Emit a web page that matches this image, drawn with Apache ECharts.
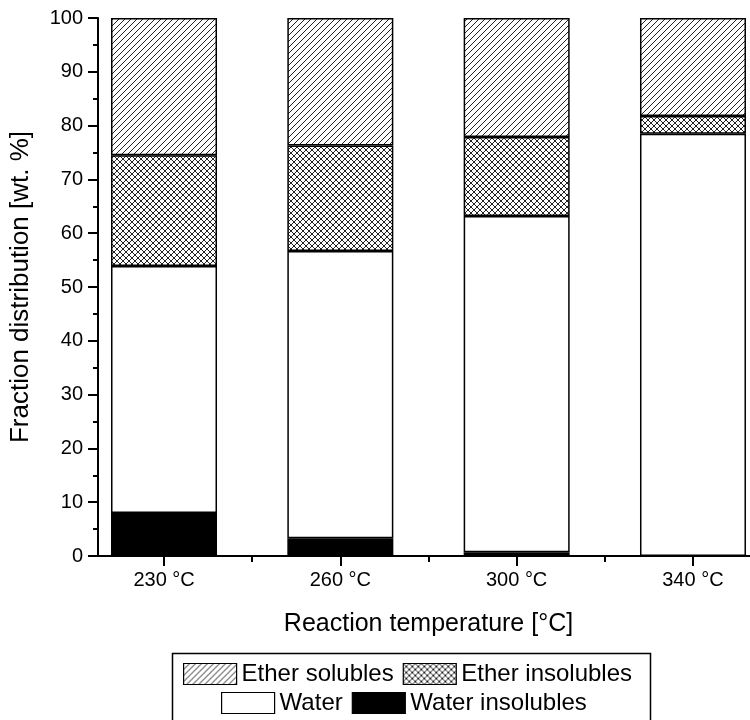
<!DOCTYPE html>
<html><head><meta charset="utf-8">
<script src="https://cdn.jsdelivr.net/npm/echarts@6/dist/echarts.min.js"></script>
<style>html,body{margin:0;padding:0;background:#fff}#c{width:750px;height:720px}</style>
</head><body><div id="c"></div>
<script>
// ---- data ----
const categories = ['230 °C', '260 °C', '300 °C', '340 °C'];
const categoryPositions = [1, 2, 3, 4];
const minorTickPositions = [1.5, 2.5, 3.5];
const waterInsolubles = [8.0, 3.3, 0.7, 0];
const water = [45.9, 53.4, 62.5, 78.5];
const etherInsolubles = [20.6, 19.6, 14.7, 3.3];
const etherSolubles = [25.5, 23.7, 22.1, 18.2];
const seriesNames = ['Water insolubles', 'Water', 'Ether insolubles', 'Ether solubles'];

// ---- patterns ----
function hatch(cross) {
  const s = 6, c = document.createElement('canvas');
  c.width = c.height = s;
  const g = c.getContext('2d');
  g.fillStyle = '#fff'; g.fillRect(0, 0, s, s);
  g.strokeStyle = '#222'; g.lineWidth = 1;
  g.beginPath();
  g.moveTo(0, s); g.lineTo(s, 0);
  g.moveTo(-1, 1); g.lineTo(1, -1);
  g.moveTo(s - 1, s + 1); g.lineTo(s + 1, s - 1);
  if (cross) {
    g.moveTo(0, 0); g.lineTo(s, s);
    g.moveTo(-1, s - 1); g.lineTo(1, s + 1);
    g.moveTo(s - 1, -1); g.lineTo(s + 1, 1);
  }
  g.stroke();
  return c;
}
const fills = [
  '#000',
  '#fff',
  { image: hatch(true), repeat: 'repeat' },
  { image: hatch(false), repeat: 'repeat' }
];
const values = [waterInsolubles, water, etherInsolubles, etherSolubles];

const font = 'Liberation Sans, Arial, sans-serif';
const chart = echarts.init(document.getElementById('c'), null, { renderer: 'canvas' });

const series = values.map((vals, k) => ({
  name: seriesNames[k],
  type: 'bar',
  stack: 'total',
  barWidth: 106,
  xAxisIndex: 2,
  yAxisIndex: 1,
  data: vals,
  itemStyle: { color: fills[k], borderColor: '#000', borderWidth: 1.5 },
  emphasis: { disabled: true },
  animation: false
}));

const legendCommon = {
  padding: 0, icon: 'rect',
  itemWidth: 53, itemHeight: 21, itemGap: 9,
  textStyle: { fontFamily: font, fontSize: 24, color: '#000' },
  itemStyle: { borderColor: '#000', borderWidth: 1.2 },
  selectedMode: false
};

chart.setOption({
  animation: false,
  backgroundColor: '#fff',
  grid: [
    { left: 98, top: 18, width: 661, height: 538, outerBoundsMode: 'none', containLabel: false },
    { left: 75.85, top: 18, width: 705.3, height: 538, outerBoundsMode: 'none', containLabel: false }
  ],
  xAxis: [{
    gridIndex: 0,
    type: 'value', min: 0.625, max: 4.375, position: 'bottom',
    name: 'Reaction temperature [°C]', nameLocation: 'middle', nameGap: 56,
    nameTextStyle: { fontFamily: font, fontSize: 25, color: '#000' },
    axisLine: { show: true, lineStyle: { color: '#000', width: 2 } },
    axisTick: { show: true, length: 10, customValues: categoryPositions, lineStyle: { color: '#000', width: 2 } },
    axisLabel: {
      customValues: categoryPositions, margin: 14,
      fontFamily: font, fontSize: 20, color: '#000',
      formatter: v => categories[categoryPositions.indexOf(v)]
    },
    splitLine: { show: false }
  }, {
    gridIndex: 0,
    type: 'value', min: 0.625, max: 4.375, position: 'bottom', offset: 0,
    axisLine: { show: false },
    axisTick: { show: true, length: 6, customValues: minorTickPositions, lineStyle: { color: '#000', width: 2 } },
    axisLabel: { show: false },
    splitLine: { show: false }
  }, {
    gridIndex: 1,
    type: 'category', data: categories, boundaryGap: true,
    axisLine: { show: false }, axisTick: { show: false }, axisLabel: { show: false },
    splitLine: { show: false }
  }],
  yAxis: [{
    gridIndex: 0,
    type: 'value', min: 0, max: 100, interval: 10,
    name: 'Fraction distribution [wt. %]', nameLocation: 'middle', nameGap: 64,
    nameTextStyle: { fontFamily: font, fontSize: 26, color: '#000' },
    axisLine: { show: true, lineStyle: { color: '#000', width: 2 } },
    axisTick: { show: true, length: 10, lineStyle: { color: '#000', width: 2 } },
    minorTick: { show: true, splitNumber: 2, length: 5, lineStyle: { color: '#000', width: 2 } },
    axisLabel: { margin: 15, fontFamily: font, fontSize: 20, color: '#000' },
    splitLine: { show: false }
  }, {
    gridIndex: 1,
    type: 'value', min: 0, max: 100,
    axisLine: { show: false }, axisTick: { show: false }, axisLabel: { show: false },
    splitLine: { show: false }
  }],
  legend: [
    Object.assign({ data: ['Ether solubles', 'Ether insolubles'], left: 183, top: 662 }, legendCommon),
    Object.assign({ data: ['Water', 'Water insolubles'], left: 221, top: 691 }, legendCommon)
  ],
  graphic: [{
    type: 'rect', left: 170, top: 651,
    shape: { width: 478, height: 75 },
    style: { fill: 'none', stroke: '#000', lineWidth: 1.5 },
    silent: true
  }],
  series: series
});
</script>
</body></html>
